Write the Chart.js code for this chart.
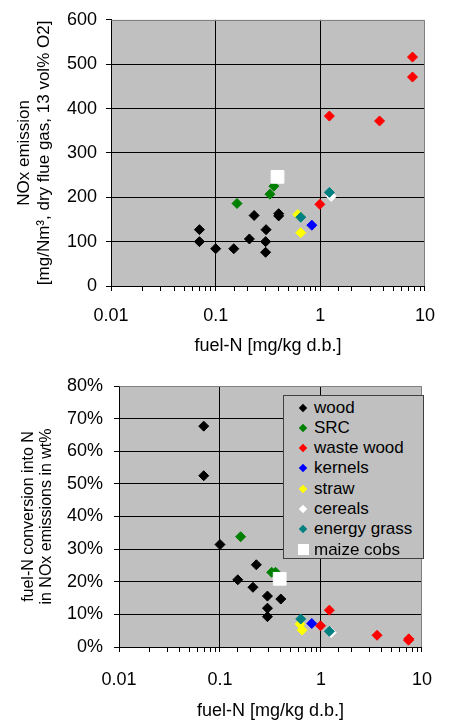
<!DOCTYPE html>
<html><head><meta charset="utf-8">
<script src="https://cdn.jsdelivr.net/npm/chart.js@4/dist/chart.umd.min.js"></script>
<style>
html,body{margin:0;padding:0;background:#fff;}
#wrap{position:relative;width:449px;height:722px;overflow:hidden;background:#fff;}
.box{position:absolute;left:0;width:449px;}
#legend{position:absolute;left:283px;top:395px;width:141px;height:164px;box-sizing:border-box;background:#c0c0c0;border:1px solid #404040;font-family:'Liberation Sans',Arial,sans-serif;font-size:17px;color:#000;}
.row{position:absolute;left:0;height:20px;line-height:20px;white-space:nowrap;}
.txt{position:absolute;left:30px;top:0;}
</style></head>
<body>
<div id="wrap">
  <div class="box" style="top:0;height:360px;"><canvas id="c1" width="449" height="360"></canvas></div>
  <div class="box" style="top:360px;height:362px;"><canvas id="c2" width="449" height="362"></canvas></div>
  <div id="legend"></div>
</div>
<script>
// ---------- DATA ----------
const categories = ['wood','SRC','waste wood','kernels','straw','cereals','energy grass','maize cobs'];
const xTickLabels = ['0.01','0.1','1','10'];

// top chart: fuel-N [mg/kg d.b.] vs NOx emission [mg/Nm3]
const woodN1   = [0.07, 0.07, 0.10, 0.149, 0.21, 0.233, 0.303, 0.30, 0.30, 0.40, 0.40];
const woodNOx  = [127, 100, 84, 84, 106, 159, 127, 100, 76, 163, 158];
const srcN1    = [0.16, 0.33, 0.36];
const srcNOx   = [186, 207, 225];
const wasteN1  = [0.99, 1.22, 3.68, 7.6, 7.6];
const wasteNOx = [184, 383, 372, 516, 471];
const kernN1   = [0.83];
const kernNOx  = [137];
const strawN1  = [0.61, 0.65];
const strawNOx = [161, 120];
const cerN1    = [1.27];
const cerNOx   = [202];
const grassN1  = [0.65, 1.22];
const grassNOx = [155, 211];
const maizeN1  = [0.39];
const maizeNOx = [246];

// bottom chart: fuel-N vs conversion [%]
const woodN2    = [0.069, 0.069, 0.10, 0.15, 0.229, 0.212, 0.295, 0.295, 0.295, 0.40];
const woodConv  = [67.7, 52.5, 31.4, 20.6, 25.2, 18.3, 15.6, 11.9, 9.3, 14.7];
const srcN2     = [0.16, 0.325, 0.355];
const srcConv   = [33.8, 22.9, 22.9];
const wasteN2   = [0.99, 1.21, 3.59, 7.36, 7.4];
const wasteConv = [6.5, 11.3, 3.6, 2.1, 2.5];
const kernN2    = [0.81];
const kernConv  = [7.2];
const strawN2   = [0.62, 0.65];
const strawConv = [7.0, 5.2];
const cerN2     = [1.26];
const cerConv   = [4.4];
const grassN2   = [0.63, 1.21];
const grassConv = [8.6, 4.8];
const maizeN2   = [0.39];
const maizeConv = [20.9];

// ---------- STYLE ----------
const colors = ['#000000','#008000','#ff0000','#0000ff','#ffff00','#ffffff','#008080','#ffffff'];
const FONT = "'Liberation Sans', Arial, sans-serif";

function zip(xs, ys){ return xs.map((x,i)=>({x:x, y:ys[i]})); }
function isDecade(v){ const l=Math.log10(v); return Math.abs(l-Math.round(l))<1e-6; }

function makeDatasets(seriesX, seriesY){
  return categories.map((name,i)=>({
    label:name,
    data:zip(seriesX[i], seriesY[i]),
    backgroundColor:colors[i],
    borderColor:colors[i],
    borderWidth:1,
    pointStyle: i===7 ? 'rect' : 'rectRot',
    pointRadius: i===7 ? 9 : 5,
    order: categories.length - i
  }));
}

const framePlugin = {
  id:'frame',
  beforeDraw(chart){
    const a=chart.chartArea, ctx=chart.ctx;
    ctx.save(); ctx.fillStyle='#c0c0c0';
    ctx.fillRect(a.left,a.top,a.right-a.left,a.bottom-a.top);
    ctx.restore();
  },
  beforeDatasetsDraw(chart){
    const a=chart.chartArea, ctx=chart.ctx;
    ctx.save(); ctx.strokeStyle='#808080'; ctx.lineWidth=1;
    ctx.beginPath();
    ctx.moveTo(Math.round(a.left)+0.5, Math.round(a.top)+0.5);
    ctx.lineTo(Math.round(a.right)-0.5, Math.round(a.top)+0.5);
    ctx.lineTo(Math.round(a.right)-0.5, Math.round(a.bottom));
    ctx.stroke(); ctx.restore();
  }
};

function makeChart(id, o){
  return new Chart(document.getElementById(id), {
    type:'scatter',
    data:{datasets:makeDatasets(o.xs,o.ys)},
    plugins:[framePlugin],
    options:{
      responsive:false, animation:false, events:[],
      layout:{padding:{top:o.padTop,right:16,left:0,bottom:0}},
      plugins:{legend:{display:false},tooltip:{enabled:false}},
      scales:{
        x:{
          type:'logarithmic', min:0.01, max:10,
          afterFit(s){ s.height=o.xH; },
          border:{color:'#000',width:1},
          grid:{
            color:(c)=> (c.tick && isDecade(c.tick.value) && c.tick.value>0.011 && c.tick.value<9.9) ? '#000' : 'rgba(0,0,0,0)',
            tickColor:'#000', tickLength:5, lineWidth:1
          },
          ticks:{
            autoSkip:false, maxRotation:0, minRotation:0, padding:o.xTickPad,
            color:'#000', font:{family:FONT,size:18},
            callback:(v)=> isDecade(v) ? xTickLabels[Math.round(Math.log10(v))+2] : ''
          },
          title:{display:true,text:'fuel-N [mg/kg d.b.]',color:'#000',font:{family:FONT,size:18},padding:{top:0,bottom:o.xTitlePad}}
        },
        y:{
          min:0, max:o.yMax,
          afterFit(s){ s.width=o.yW; },
          border:{color:'#000',width:1},
          grid:{
            color:(c)=> (c.tick && c.tick.value>0 && c.tick.value<o.yMax) ? '#000' : 'rgba(0,0,0,0)',
            tickColor:'#000', tickLength:5, lineWidth:1
          },
          ticks:{
            stepSize:o.yStep, padding:o.yTickPad, color:'#000', font:{family:FONT,size:18},
            callback:o.yLabel
          },
          title:{display:true,text:o.yTitle,color:'#000',font:{family:FONT,size:o.yTitleSize,lineHeight:1.15},padding:{top:o.yTitlePad,bottom:0}}
        }
      }
    }
  });
}

makeChart('c1',{
  xs:[woodN1,srcN1,wasteN1,kernN1,strawN1,cerN1,grassN1,maizeN1],
  ys:[woodNOx,srcNOx,wasteNOx,kernNOx,strawNOx,cerNOx,grassNOx,maizeNOx],
  padTop:13, xH:74, yW:111, yMax:600, yStep:100,
  xTickPad:14, xTitlePad:3, yTickPad:9, yTitlePad:15,
  yTitleSize:17,
  yLabel:(v)=>String(v),
  yTitle:['NOx emission','[mg/Nm³, dry flue gas, 13 vol% O2]']
});

makeChart('c2',{
  xs:[woodN2,srcN2,wasteN2,kernN2,strawN2,cerN2,grassN2,maizeN2],
  ys:[woodConv,srcConv,wasteConv,kernConv,strawConv,cerConv,grassConv,maizeConv],
  padTop:26, xH:75, yW:119, yMax:80, yStep:10,
  xTickPad:17, xTitlePad:0, yTickPad:11, yTitlePad:19,
  yTitleSize:16,
  yLabel:(v)=>v+'%',
  yTitle:['fuel-N conversion into N','in NOx emissions in wt%']
});

// ---------- LEGEND ----------
const leg = document.getElementById('legend');
categories.forEach((name,i)=>{
  const row=document.createElement('div');
  row.className='row';
  row.style.top=(1.5+i*20.3)+'px';
  row.style.width='139px';
  const mk=document.createElement('span');
  if(i===7){
    mk.style.cssText='position:absolute;left:14px;top:4px;width:11px;height:11px;background:'+colors[i]+';';
  } else {
    mk.style.cssText='position:absolute;left:16px;top:7px;width:6px;height:6px;background:'+colors[i]+';transform:rotate(45deg);';
  }
  const tx=document.createElement('span');
  tx.className='txt'; tx.textContent=name;
  row.appendChild(mk); row.appendChild(tx);
  leg.appendChild(row);
});
</script>
</body></html>
